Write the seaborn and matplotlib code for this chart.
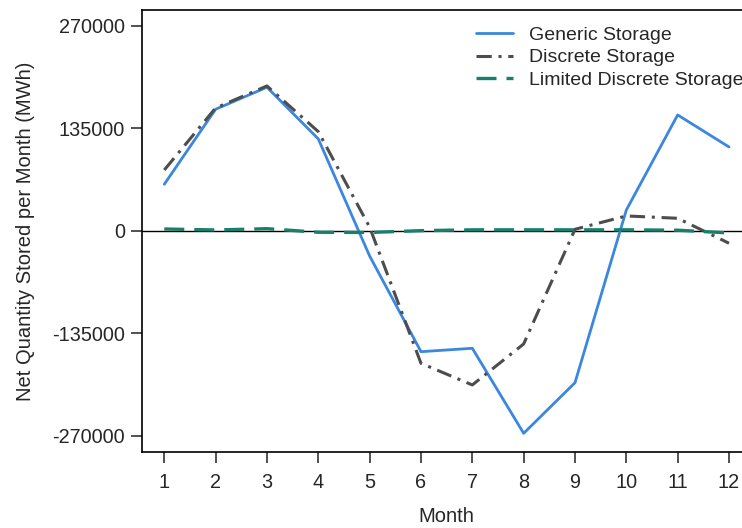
import numpy as np
import pandas as pd
import matplotlib
matplotlib.use("Agg")
import matplotlib.pyplot as plt
import seaborn as sns

months = list(range(1, 13))
generic = [61500, 160300, 189300, 121200, -33000, -159000, -154500, -266500, -199800, 27600, 152800, 110600]
discrete = [80300, 162000, 191000, 130800, 5000, -174300, -202800, -148800, 2200, 19800, 16700, -16200]
limited = [2600, 1300, 3000, -1700, -2000, 400, 1500, 1500, 1500, 1500, 1000, -2600]
series_names = ["Generic Storage", "Discrete Storage", "Limited Discrete Storage"]
yticks = [-270000, -135000, 0, 135000, 270000]

df = pd.DataFrame({
    "Month": months * 3,
    "Value": generic + discrete + limited,
    "Series": [series_names[0]] * 12 + [series_names[1]] * 12 + [series_names[2]] * 12,
})

sns.set_style("ticks")
plt.rcParams["font.family"] = ["Liberation Sans", "DejaVu Sans"]

fig = plt.figure(figsize=(7.42, 5.28), dpi=100)
ax = fig.add_axes([141.7 / 742, 1 - 451.7 / 528, (751.6 - 141.7) / 742, (451.7 - 10) / 528])

ax.axhline(0, color="black", lw=1.0, zorder=1)

palette = {series_names[0]: "#3a86e0", series_names[1]: "#4d4d4d", series_names[2]: "#17806d"}
widths = {series_names[0]: 2.0, series_names[1]: 2.2, series_names[2]: 2.4}
dashes = {series_names[0]: None, series_names[1]: (5, 2.2, 1, 2.2), series_names[2]: (6, 3)}

for name in series_names:
    sub = df[df["Series"] == name]
    sns.lineplot(data=sub, x="Month", y="Value", ax=ax, color=palette[name],
                 lw=widths[name], label=name, zorder=2)
    line = ax.get_lines()[-1]
    if dashes[name] is not None:
        line.set_dashes(dashes[name])

ax.set_xlim(0.56, 12.44)
ax.set_ylim(-290700, 291000)
ax.set_xticks(months)
ax.set_yticks(yticks)
ax.set_yticklabels([str(v) for v in yticks])
ax.set_xlabel("Month", fontsize=14.5, labelpad=11)
ax.set_ylabel("Net Quantity Stored per Month (MWh)", fontsize=14.5, labelpad=12)
ax.tick_params(axis="both", labelsize=14.3, length=8, width=1.2, color="#333333", direction="out")
ax.tick_params(axis="y", pad=4)
ax.tick_params(axis="x", pad=7)
for s in ax.spines.values():
    s.set_color("black")
    s.set_linewidth(1.2)

leg = ax.legend(loc="upper left", bbox_to_anchor=(0.548, 0.963), frameon=False,
                fontsize=14, handlelength=1.9, handletextpad=0.85, labelspacing=0.25,
                borderpad=0, borderaxespad=0)
for h, name in zip(leg.get_lines(), series_names):
    h.set_linewidth(widths[name])
    if dashes[name] is not None:
        h.set_dashes(dashes[name])

fig.savefig("out.png", dpi=100)
